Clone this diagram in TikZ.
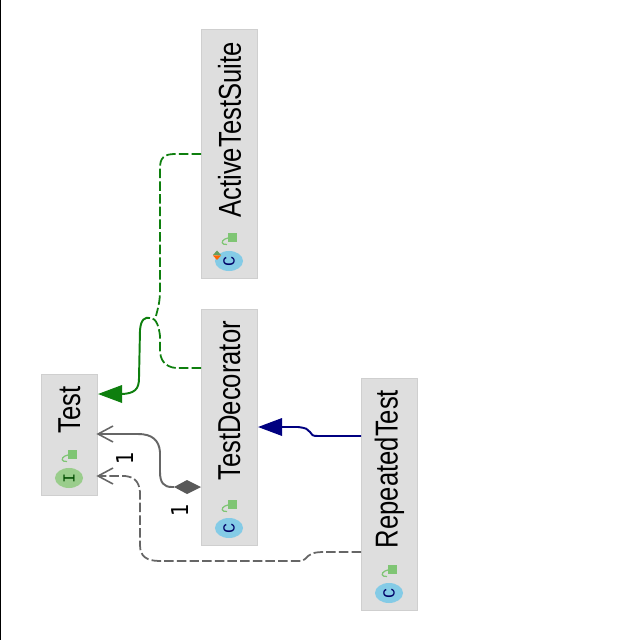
\documentclass[tikz,border=0pt]{standalone}
\usepackage{fontspec}
\usepackage{graphicx}
\setmainfont{Liberation Sans}
\newfontfamily\monofam{Liberation Mono}
\newfontfamily\digitfam{DejaVu Sans}
\definecolor{boxfill}{HTML}{DEDEDE}
\definecolor{boxedge}{HTML}{CFCFCF}
\definecolor{classblue}{HTML}{84CBE6}
\definecolor{ifacegreen}{HTML}{9ACD8C}
\definecolor{lockgreen}{HTML}{7FC574}
\definecolor{realize}{HTML}{0E7F0E}
\definecolor{navyline}{HTML}{000080}
\definecolor{grayline}{HTML}{666666}
\tikzset{
  x=0.01cm, y=-0.01cm,
  classbox/.style={draw=boxedge, fill=boxfill, line width=0.3pt, minimum width=0.56cm, inner sep=0pt},
  title/.style={inner sep=0pt, text=black, font=\fontsize{9pt}{10pt}\selectfont},
  kindmark/.style={circle, inner sep=0pt, minimum width=0.25cm, xscale=1.12, yscale=0.8},
  kindletter/.style={inner sep=0pt, font=\monofam\fontsize{4.8pt}{5pt}\selectfont},
  mult/.style={inner sep=0pt, font=\digitfam\fontsize{6.6pt}{7pt}\selectfont, text=black},
  dashline/.style={dash pattern=on 2.7pt off 0.9pt, line width=0.5pt},
  solidline/.style={line width=0.55pt}
}
% Rotated class title with the visibility and kind icons below it
\newcommand{\umlclass}[9]{%
  % #1 name, #2 left, #3 top, #4 bottom, #5 text, #6 text centre y, #7 mark colour, #8 letter, #9 letter colour
  \node[classbox, minimum height={(#4-#3)*0.01cm}, anchor=north west] (#1) at (#2,#3) {};
  \node[title, rotate=90] (#1-title) at (#2+28.5,#6) {\scalebox{0.81}[1]{#5}};
  \node[kindmark, fill=#7] (#1-mark) at (#2+28,#4-17) {};
  \node[kindletter, rotate=90, text=#9] (#1-letter) at (#1-mark) {#8};
  \fill[lockgreen] (#2+27,#4-45) rectangle (#2+36,#4-36);
  \draw[lockgreen, line width=0.35pt] (#2+27,#4-40) -- (#2+24,#4-39)
    .. controls (#2+20,#4-37) and (#2+20,#4-33) .. (#2+26,#4-33.5);
}
\begin{document}
\begin{tikzpicture}
\useasboundingbox (0,0) rectangle (640,640);
\fill[white] (0,0) rectangle (640,640);
\draw[black, line width=0.3pt] (0.5,0) -- (0.5,640);

\umlclass{test}{41}{374}{495}{Test}{410}{ifacegreen}{I}{black!70!green}
\umlclass{deco}{201}{309}{545}{TestDecorator}{401}{classblue}{C}{blue!40!black}
\umlclass{suite}{201}{29}{278}{ActiveTestSuite}{130}{classblue}{C}{blue!40!black}
\umlclass{rep}{361}{378}{610}{RepeatedTest}{469}{classblue}{C}{blue!40!black}

% Small static/abstract badge on ActiveTestSuite
\fill[lockgreen!80!black] (217,250.5) -- (221,255) -- (213,255) -- cycle;
\fill[orange!80!red] (213,255.5) -- (221,255.5) -- (217,260) -- cycle;

% Realization of Test, shared trunk from both subclasses
\coordinate (suiteOut) at (suite.west |- 0,154);
\coordinate (decoOut) at (deco.west |- 0,368);
\coordinate (joinPt) at (150,318);
\coordinate (realizeTip) at (test.east |- 0,394);
\draw[realize, dashline] (suiteOut) -- (175,154) .. controls (164,154) and (160,158) .. (160,168)
  -- (160,290) .. controls (160,302) and (158,308) .. (156,316);
\draw[realize, dashline] (decoOut) -- (176,368) .. controls (165,367) and (160,360) .. (160,350)
  -- (160,336) .. controls (159,328) and (157,318) .. (joinPt);
\draw[realize, solidline] (joinPt) .. controls (145,317) and (141,319) .. (140,330)
  -- (139,378) .. controls (139,389) and (135,394) .. (120,394);
\fill[realize] (realizeTip) -- (122,385) -- (122,403) -- cycle;

% Composition of Test inside TestDecorator
\coordinate (diamondEnd) at (deco.west |- 0,487);
\coordinate (aggrTip) at (test.east |- 0,434);
\draw[grayline, solidline] (174,487) -- (172,487) .. controls (164,487) and (160,483) .. (160,472)
  -- (160,452) .. controls (159,440) and (152,434) .. (138,434) -- (aggrTip);
\fill[black!65] (diamondEnd) -- (187,480) -- (174,487) -- (187,494) -- cycle;
\draw[grayline, line width=0.45pt] (113,426) -- (aggrTip) -- (113,442);
\node[mult, rotate=90] (multTest) at (125.5,458) {\scalebox{0.85}[1]{1}};
\node[mult, rotate=90] (multDeco) at (180.5,510) {\scalebox{0.85}[1]{1}};

% Realization of Test by RepeatedTest
\coordinate (repOut) at (rep.west |- 0,552);
\coordinate (dashTip) at (test.east |- 0,476);
\draw[grayline, dashline] (repOut) -- (325,552) .. controls (312,552) and (310,554) .. (305,559)
  .. controls (303,561) and (302,561) .. (298,561) -- (160,561) .. controls (146,561) and (140,556) .. (140,545)
  -- (140,492) .. controls (139,481) and (134,477) .. (125,476) -- (dashTip);
\draw[grayline, line width=0.45pt] (113,468) -- (dashTip) -- (113,484);

% Inheritance of TestDecorator by RepeatedTest
\coordinate (repSuper) at (rep.west |- 0,436);
\coordinate (superTip) at (deco.east |- 0,427);
\draw[navyline, solidline] (repSuper) -- (318,436) .. controls (312,436) and (312,435) .. (310,432)
  .. controls (308,429) and (306,428) .. (298,427) -- (280,427);
\fill[navyline] (superTip) -- (282,418) -- (282,436) -- cycle;
\end{tikzpicture}
\end{document}
